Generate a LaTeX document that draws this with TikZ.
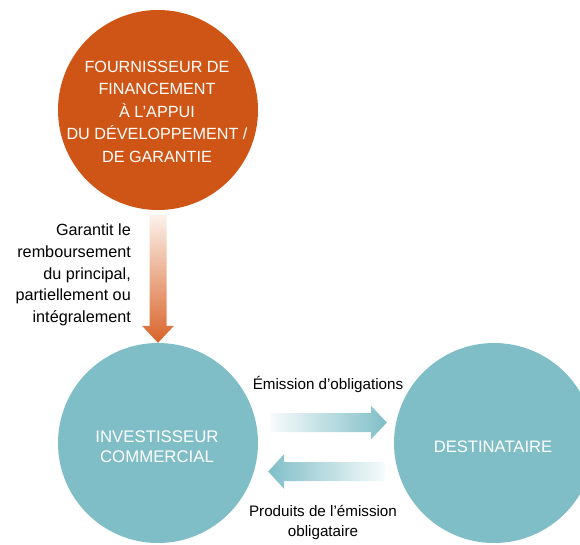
\documentclass[tikz,border=0pt]{standalone}
\usepackage{fontspec}
\setmainfont{Liberation Sans}
\usepackage{xcolor}
\usetikzlibrary{calc}
\definecolor{rust}{HTML}{CF5516}
\definecolor{rustlt}{HTML}{FCF1EA}
\definecolor{rustdk}{HTML}{D9632A}
\definecolor{lagoon}{HTML}{80BEC7}
\definecolor{lagoonlt}{HTML}{F7FBFB}
\tikzset{
  party/.style={circle,minimum size=200pt,inner sep=0pt},
  donor/.style={party,fill=rust},
  actor/.style={party,fill=lagoon},
  intxt/.style={text=white,align=center,inner sep=0pt},
  lab/.style={align=center,inner sep=0pt,font=\fontsize{15.2}{20}\selectfont},
}
\begin{document}
\begin{tikzpicture}[x=1pt,y=1pt]
\clip (0,0) rectangle (580,544);
\useasboundingbox (0,0) rectangle (580,544);
% the three parties
\node[donor] (fin) at (158,434) {};
\node[actor] (inv) at (158,101) {};
\node[actor] (dst) at (494,101) {};
\node[intxt,font=\fontsize{16.2}{22.5}\selectfont] (fintxt) at (157,432.5)
  {FOURNISSEUR DE\\FINANCEMENT\\À L’APPUI\\DU DÉVELOPPEMENT /\\DE GARANTIE};
\node[intxt,font=\fontsize{16.8}{20}\selectfont] (invtxt) at (157,97)
  {INVESTISSEUR\\COMMERCIAL};
\node[intxt,font=\fontsize{16.6}{20}\selectfont,anchor=base] (dsttxt) at (493,91.3)
  {DESTINATAIRE};
% guarantee arrow
\shade[top color=rustlt,bottom color=rustdk]
  ($(fin.south)+(-8.5,-5)$) -- ($(inv.north)+(-8.5,17)$) -- ($(inv.north)+(-16,17)$)
  -- (inv.north) -- ($(inv.north)+(16,17)$) -- ($(inv.north)+(8.5,17)$)
  -- ($(fin.south)+(8.5,-5)$) -- cycle;
% bond issue
\shade[left color=lagoonlt,right color=lagoon]
  ($(inv.east)+(12,11)$) -- ($(dst.west)+(-23,11)$) -- ($(dst.west)+(-23,3.5)$)
  -- ($(dst.west)+(-7,20.5)$) -- ($(dst.west)+(-23,37.5)$) -- ($(dst.west)+(-23,30)$)
  -- ($(inv.east)+(12,30)$) -- cycle;
% proceeds
\shade[left color=lagoon,right color=lagoonlt]
  ($(dst.west)+(-9,-38)$) -- ($(inv.east)+(26,-38)$) -- ($(inv.east)+(26,-46)$)
  -- ($(inv.east)+(10,-28.5)$) -- ($(inv.east)+(26,-11)$) -- ($(inv.east)+(26,-19)$)
  -- ($(dst.west)+(-9,-19)$) -- cycle;
% labels
\node[lab,align=right,anchor=east,font=\fontsize{16.2}{21.6}\selectfont] (guar) at (131,269)
  {Garantit le\\remboursement\\du principal,\\partiellement ou\\intégralement};
\node[lab,anchor=base] (emis) at (328,155) {Émission d’obligations};
\node[lab] (prod) at (323,21.2) {Produits de l’émission\\obligataire};
\end{tikzpicture}
\end{document}
